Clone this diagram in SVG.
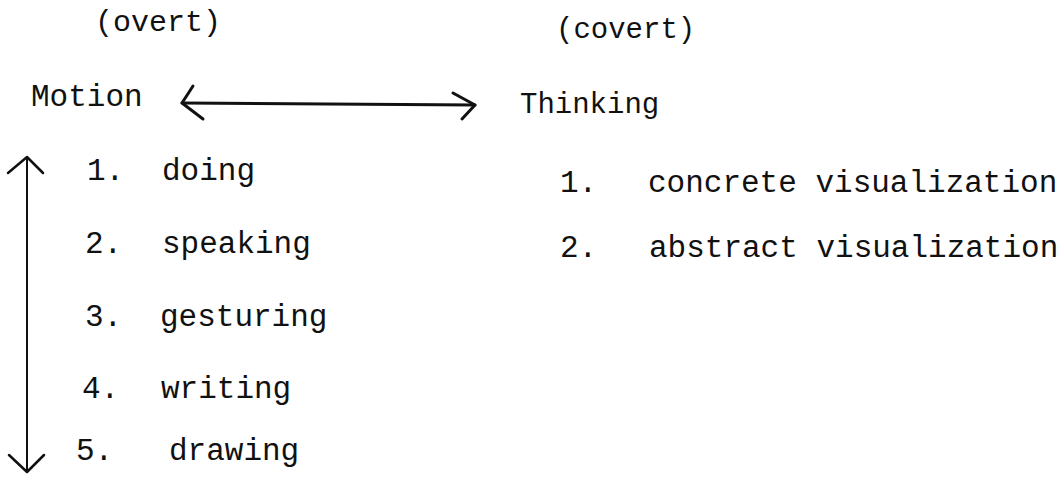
<svg xmlns="http://www.w3.org/2000/svg" width="1063" height="478" viewBox="0 0 1063 478">
<style>
text{font-family:"Liberation Mono","Courier New",monospace;font-size:31px;fill:#111;}
.sm{font-size:29px;}
.md{font-size:30px;}
.arr{fill:none;stroke:#111;stroke-linecap:round;stroke-linejoin:round;}
</style>
<rect width="1063" height="478" fill="#fff"/>
<g id="overt"><text class="md" x="95" y="31">(overt)</text></g>
<g id="covert"><text class="sm" x="556" y="38">(covert)</text></g>
<g id="motion"><text x="31" y="106">Motion</text></g>
<g id="thinking"><text class="sm" x="520" y="113">Thinking</text></g>
<g id="motion-list">
<g id="m1"><text x="87" y="180">1.</text><text x="162" y="180">doing</text></g>
<g id="m2"><text x="85" y="253">2.</text><text x="162" y="253">speaking</text></g>
<g id="m3"><text x="85" y="326">3.</text><text x="160" y="326">gesturing</text></g>
<g id="m4"><text x="82" y="398">4.</text><text x="161" y="398">writing</text></g>
<g id="m5"><text x="76" y="460">5.</text><text x="169" y="460">drawing</text></g>
</g>
<g id="thinking-list">
<g id="t1"><text x="560" y="192">1.</text><text x="648" y="192">concrete visualization</text></g>
<g id="t2"><text x="560" y="257">2.</text><text x="649" y="257">abstract visualization</text></g>
</g>
<g id="connectors">
<path class="arr" stroke-width="3" d="M182,103 L475,105"/>
<polyline class="arr" stroke-width="3" points="193,86 182,103 203,119"/>
<polyline class="arr" stroke-width="3" points="453,93 475,105 462,119"/>
<path class="arr" stroke-width="2" d="M27,158 L27,471"/>
<polyline class="arr" stroke-width="2.5" points="8,173 27,157 43,173"/>
<polyline class="arr" stroke-width="2.5" points="9,455 27,472 44,455"/>
</g>
</svg>
